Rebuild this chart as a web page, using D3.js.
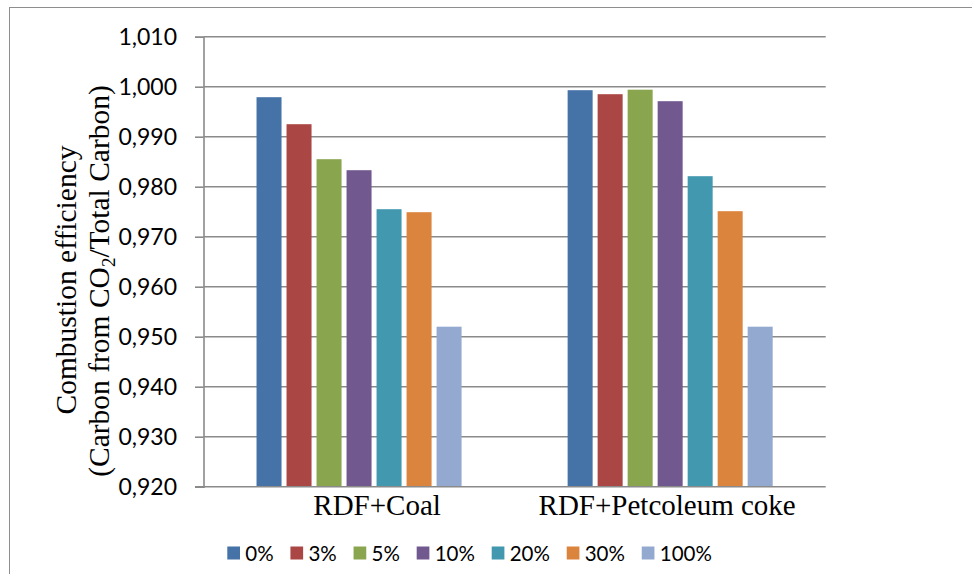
<!DOCTYPE html>
<html>
<head>
<meta charset="utf-8">
<script src="https://cdn.jsdelivr.net/npm/d3@7"></script>
<style>
  html, body { margin: 0; padding: 0; background: #fff; }
  svg { display: block; }
</style>
</head>
<body>
<svg id="chart" width="972" height="574"></svg>
<script>
// Fuel blends on the x axis, RDF share as the series
const categories = ["RDF+Coal", "RDF+Petcoleum coke"];
const seriesNames = ["0%", "3%", "5%", "10%", "20%", "30%", "100%"];
const rdfCoal   = [0.9979, 0.9925, 0.9855, 0.9833, 0.9755, 0.9749, 0.9520];
const rdfPetcoke = [0.9993, 0.9985, 0.9994, 0.9971, 0.9821, 0.9751, 0.9520];
const seriesColors = ["#4572A7", "#AA4643", "#89A54E", "#71588F", "#4198AF", "#DB843D", "#93A9CF"];
const yTicks = [0.92, 0.93, 0.94, 0.95, 0.96, 0.97, 0.98, 0.99, 1.00, 1.01];

const values = [rdfCoal, rdfPetcoke];

const svg = d3.select("#chart");
const plot = { left: 203.5, right: 825.7, top: 36.7, bottom: 486.7 };
const gridColor = "#8a8a8a";

// chart-area frame
svg.append("rect")
  .attr("x", 9.5).attr("y", 7.5)
  .attr("width", 972).attr("height", 600)
  .attr("fill", "none")
  .attr("stroke", "#8e8e8e")
  .attr("stroke-width", 1);

const y = d3.scaleLinear().domain([0.92, 1.01]).range([plot.bottom, plot.top]);
const x0 = d3.scaleBand().domain(categories).range([plot.left, plot.right]);
const x1 = d3.scaleBand().domain(seriesNames).range([0, x0.bandwidth()])
  .paddingInner(5 / 30).paddingOuter(1.767);

const commaFmt = v => d3.format(".3f")(v).replace(".", ",");

// horizontal gridlines
svg.append("g")
  .selectAll("line")
  .data(yTicks.slice(1))
  .join("line")
  .attr("x1", plot.left).attr("x2", plot.right)
  .attr("y1", d => y(d)).attr("y2", d => y(d))
  .attr("stroke", gridColor)
  .attr("stroke-width", 1.6);

// bars
const groups = svg.append("g")
  .selectAll("g")
  .data(categories)
  .join("g")
  .attr("transform", d => `translate(${x0(d)},0)`);

groups.selectAll("rect")
  .data((d, i) => values[i].map((v, j) => ({ name: seriesNames[j], value: v, color: seriesColors[j] })))
  .join("rect")
  .attr("x", d => x1(d.name))
  .attr("width", x1.bandwidth())
  .attr("y", d => y(d.value))
  .attr("height", d => y(0.92) - y(d.value))
  .attr("fill", d => d.color);

// y axis
const yAxis = d3.axisLeft(y)
  .tickValues(yTicks)
  .tickFormat(commaFmt)
  .tickSize(8.5)
  .tickPadding(18);

const gy = svg.append("g")
  .attr("transform", `translate(${plot.left},0)`)
  .call(yAxis);
gy.select(".domain").attr("stroke", gridColor).attr("stroke-width", 1.6);
gy.selectAll(".tick line").attr("stroke", gridColor).attr("stroke-width", 1.6);
gy.selectAll(".tick text")
  .attr("font-family", "Lato, 'Open Sans', sans-serif")
  .attr("font-size", 23)
  .attr("fill", "#000");

// x axis (baseline only, labels below)
const xAxis = d3.axisBottom(x0).tickSize(0).tickPadding(0);
const gx = svg.append("g")
  .attr("transform", `translate(0,${plot.bottom})`)
  .call(xAxis);
gx.select(".domain").attr("stroke", gridColor).attr("stroke-width", 1.6)
  .attr("d", `M${plot.left - 8.5},0H${plot.right}`);
gx.selectAll(".tick text")
  .attr("font-family", "'Liberation Serif', 'Times New Roman', serif")
  .attr("font-size", 29)
  .attr("fill", "#000")
  .attr("dy", null)
  .attr("y", 28.5)
  .attr("x", (d, i) => i === 0 ? 18 : -3);

// y axis title, two lines
const titleFont = "'Liberation Serif', 'Times New Roman', serif";
svg.append("text")
  .attr("transform", "translate(76,280) rotate(-90)")
  .attr("text-anchor", "middle")
  .attr("font-family", titleFont)
  .attr("font-size", 29.5)
  .text("Combustion efficiency");

const t2 = svg.append("text")
  .attr("transform", "translate(109,281) rotate(-90)")
  .attr("text-anchor", "middle")
  .attr("font-family", titleFont)
  .attr("font-size", 29.5);
t2.append("tspan").text("(Carbon from CO");
t2.append("tspan").attr("font-size", 19).attr("dy", 6).text("2");
t2.append("tspan").attr("dy", -6).text("/Total Carbon)");

// legend
const legend = svg.append("g");
const legendFont = "Lato, 'Open Sans', sans-serif";
let lx = 227.3;
seriesNames.forEach((name, i) => {
  const item = legend.append("g").attr("transform", `translate(${lx},0)`);
  item.append("rect")
    .attr("x", 0).attr("y", 546.5)
    .attr("width", 12.7).attr("height", 13)
    .attr("fill", seriesColors[i]);
  const txt = item.append("text")
    .attr("x", 18).attr("y", 560.5)
    .attr("font-family", legendFont)
    .attr("font-size", 20.5)
    .attr("fill", "#000")
    .text(name);
  lx += 18 + txt.node().getComputedTextLength() + 16.8;
});
</script>
</body>
</html>
